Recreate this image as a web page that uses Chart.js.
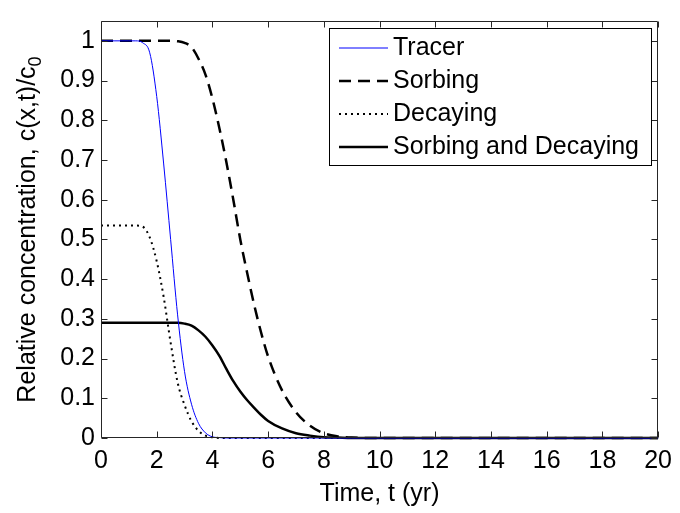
<!DOCTYPE html>
<html>
<head>
<meta charset="utf-8">
<script src="https://cdn.jsdelivr.net/npm/chart.js@4.4.0/dist/chart.umd.min.js"></script>
<style>
  html, body { margin: 0; padding: 0; background: #fff; }
</style>
</head>
<body>
<canvas id="my-chart" width="680" height="513"></canvas>
<script>
'use strict';

// *** Data ***

let timeYears = [0, 0.5, 1, 1.25, 1.5, 1.75, 2, 2.25, 2.5, 2.75, 3, 3.25, 3.5, 3.75, 4, 4.25, 4.5, 4.75, 5, 5.25, 5.5, 5.75, 6, 6.5, 7, 7.5, 8, 8.5, 9, 10, 12, 14, 16, 18, 20];

let tracerValues = [1, 1, 1, 1, 0.995, 0.97, 0.86, 0.69, 0.50, 0.31, 0.167, 0.085, 0.037, 0.013, 0.003, 0.001, 0,
  0, 0, 0, 0, 0, 0, 0, 0, 0, 0, 0, 0, 0, 0, 0, 0, 0, 0];

let sorbingValues = [1, 1, 1, 1, 1, 1, 1, 1, 1, 0.999, 0.995, 0.984, 0.955, 0.915, 0.855, 0.78, 0.695, 0.60, 0.50,
  0.415, 0.335, 0.265, 0.205, 0.12, 0.065, 0.031, 0.012, 0.004, 0.001, 0, 0, 0, 0, 0, 0];

let decayingValues = [0.535, 0.535, 0.535, 0.535, 0.532, 0.505, 0.445, 0.355, 0.24, 0.14, 0.083, 0.042, 0.018, 0.006, 0.002, 0,
  0, 0, 0, 0, 0, 0, 0, 0, 0, 0, 0, 0, 0, 0, 0, 0, 0, 0, 0];

let sorbDecayValues = [0.29, 0.29, 0.29, 0.29, 0.29, 0.29, 0.29, 0.29, 0.29, 0.29, 0.288, 0.283, 0.271, 0.255, 0.233, 0.207,
  0.174, 0.143, 0.117, 0.095, 0.076, 0.058, 0.043, 0.024, 0.012, 0.006, 0.002, 0.001, 0, 0, 0, 0, 0, 0, 0];

let seriesNames = ['Tracer', 'Sorbing', 'Decaying', 'Sorbing and Decaying'];

let xTickValues = [0, 2, 4, 6, 8, 10, 12, 14, 16, 18, 20];
let xTickLabels = ['0', '2', '4', '6', '8', '10', '12', '14', '16', '18', '20'];
let yTickValues = [0, 0.1, 0.2, 0.3, 0.4, 0.5, 0.6, 0.7, 0.8, 0.9, 1];
let yTickLabels = ['0', '0.1', '0.2', '0.3', '0.4', '0.5', '0.6', '0.7', '0.8', '0.9', '1'];

let xAxisTitle = 'Time, t (yr)';
let yAxisTitle = 'Relative concentration, c(x,t)/c';
let yAxisSub = '0';

// *** Helpers ***

let fontFamily = '"Liberation Sans", Arial, Helvetica, sans-serif';
let fontSize = 25;

function toPoints(values) {
  return timeYears.map((t, i) => ({ x: t, y: values[i] }));
}

// box round the axes with inward ticks, like MATLAB
let framePlugin = {
  id: 'frame',
  afterDatasetsDraw(chart) {
    let c = chart.ctx;
    let a = chart.chartArea;
    let xs = chart.scales.x;
    let ys = chart.scales.y;
    let left = Math.round(a.left) + 0.5;
    let right = Math.round(a.right) - 0.5;
    let top = Math.round(a.top) + 0.5;
    let bottom = Math.round(a.bottom) - 0.5;
    let tick = 6;
    c.save();
    c.strokeStyle = '#262626';
    c.lineWidth = 1;
    c.beginPath();
    c.rect(left, top, right - left, bottom - top);
    xTickValues.forEach(v => {
      let px = Math.round(xs.getPixelForValue(v)) + 0.5;
      c.moveTo(px, bottom); c.lineTo(px, bottom - tick);
      c.moveTo(px, top); c.lineTo(px, top + tick);
    });
    yTickValues.forEach(v => {
      let py = Math.round(ys.getPixelForValue(v)) + 0.5;
      c.moveTo(left, py); c.lineTo(left + tick, py);
      c.moveTo(right, py); c.lineTo(right - tick, py);
    });
    c.stroke();
    c.restore();
  }
};

// y title with a subscript 0
let yTitlePlugin = {
  id: 'yTitle',
  afterDraw(chart) {
    let c = chart.ctx;
    let a = chart.chartArea;
    let mainFont = fontSize + 'px ' + fontFamily;
    let subFont = Math.round(fontSize * 0.7) + 'px ' + fontFamily;
    c.save();
    c.font = mainFont;
    let mainW = c.measureText(yAxisTitle).width;
    c.font = subFont;
    let subW = c.measureText(yAxisSub).width;
    let start = -(mainW + subW) / 2;
    c.translate(35, (a.top + a.bottom) / 2);
    c.rotate(-Math.PI / 2);
    c.fillStyle = '#000';
    c.textAlign = 'left';
    c.textBaseline = 'alphabetic';
    c.font = mainFont;
    c.fillText(yAxisTitle, start, 0);
    c.font = subFont;
    c.fillText(yAxisSub, start + mainW, 6);
    c.restore();
  }
};

// legend box inside the plot, top right
let legendPlugin = {
  id: 'boxLegend',
  afterDraw(chart) {
    let c = chart.ctx;
    let a = chart.chartArea;
    let boxLeft = Math.round(a.right) - 329;
    let boxTop = Math.round(a.top) + 7;
    let boxW = 322;
    let boxH = 137;
    c.save();
    c.fillStyle = '#fff';
    c.fillRect(boxLeft, boxTop, boxW, boxH);
    c.strokeStyle = '#000';
    c.lineWidth = 1;
    c.strokeRect(boxLeft + 0.5, boxTop + 0.5, boxW, boxH);
    c.font = fontSize + 'px ' + fontFamily;
    c.textBaseline = 'middle';
    c.textAlign = 'left';
    chart.data.datasets.forEach((ds, i) => {
      let y = boxTop + 20 + i * 33;
      c.beginPath();
      c.strokeStyle = ds.borderColor;
      c.lineWidth = ds.borderWidth;
      c.setLineDash(ds.borderDash || []);
      c.moveTo(boxLeft + 10, y);
      c.lineTo(boxLeft + 59, y);
      c.stroke();
      c.setLineDash([]);
      c.fillStyle = '#000';
      c.fillText(ds.label, boxLeft + 64, y);
    });
    c.restore();
  }
};

// *** Chart ***

let ctx = document.getElementById('my-chart');

new Chart(ctx, {
  type: 'line',
  data: {
    datasets: [
      { label: seriesNames[0], data: toPoints(tracerValues), borderColor: '#0000ff', borderWidth: 1 },
      { label: seriesNames[1], data: toPoints(sorbingValues), borderColor: '#000', borderWidth: 2.5, borderDash: [12, 7] },
      { label: seriesNames[2], data: toPoints(decayingValues), borderColor: '#000', borderWidth: 2, borderDash: [2, 4] },
      { label: seriesNames[3], data: toPoints(sorbDecayValues), borderColor: '#000', borderWidth: 2.5 }
    ]
  },
  options: {
    responsive: false,
    animation: false,
    devicePixelRatio: 1,
    layout: { padding: { left: 0, right: 18, top: 11, bottom: 0 } },
    elements: {
      point: { radius: 0 },
      line: { cubicInterpolationMode: 'monotone', fill: false }
    },
    datasets: { line: { clip: 5 } },
    plugins: {
      legend: { display: false },
      tooltip: { enabled: false }
    },
    scales: {
      x: {
        type: 'linear',
        min: 0,
        max: 20,
        afterFit(scale) { scale.height = 75; },
        afterBuildTicks(scale) { scale.ticks = xTickValues.map(v => ({ value: v })); },
        grid: { display: false, drawTicks: false },
        border: { display: false },
        ticks: {
          color: '#000',
          padding: 8,
          maxRotation: 0,
          autoSkip: false,
          font: { family: fontFamily, size: fontSize },
          callback: (value, index) => xTickLabels[index]
        },
        title: {
          display: true,
          text: xAxisTitle,
          color: '#000',
          font: { family: fontFamily, size: fontSize },
          padding: { top: 0, bottom: 4 }
        }
      },
      y: {
        type: 'linear',
        min: 0,
        max: 1.05,
        afterFit(scale) { scale.width = 101; },
        afterBuildTicks(scale) { scale.ticks = yTickValues.map(v => ({ value: v })); },
        grid: { display: false, drawTicks: false },
        border: { display: false },
        ticks: {
          color: '#000',
          padding: 6,
          autoSkip: false,
          font: { family: fontFamily, size: fontSize },
          callback: (value, index) => yTickLabels[index]
        }
      }
    }
  },
  plugins: [framePlugin, yTitlePlugin, legendPlugin]
});
</script>
</body>
</html>
